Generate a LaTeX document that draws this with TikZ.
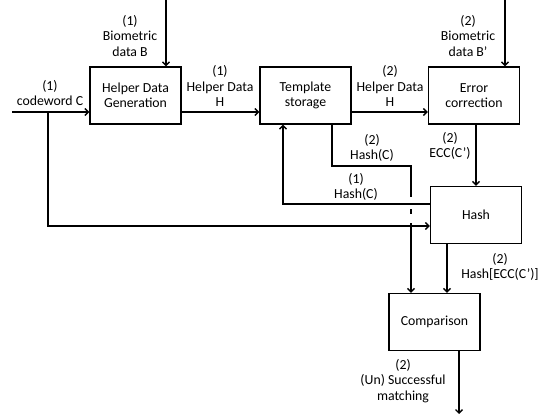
\documentclass[tikz,border=0pt]{standalone}
\usepackage{fontspec}
\setmainfont{Carlito}
\usetikzlibrary{arrows.meta}

\begin{document}
\begin{tikzpicture}[
    x=1pt, y=-1pt,
    line width=1.4pt,
    font=\fontsize{13.8}{15.5}\selectfont,
    block/.style={draw, minimum width=91pt, minimum height=57pt, align=center, inner sep=0pt},
    lbl/.style={align=center, inner sep=0pt},
    arr/.style={-{Straight Barb[length=3.5pt,width=7pt]}}
]
\useasboundingbox (0,0) rectangle (543,414);

% Blocks
\node[block] (hdg) at (135.5,95.5) {Helper Data\\Generation};
\node[block] (ts) at (305.5,95.5) {Template\\storage};
\node[block] (ecc) at (474,95.5) {Error\\correction};
\node[block] (hash) at (476,215) {Hash};
\node[block] (cmp) at (434.5,322) {Comparison};

% Free ends and bends
\coordinate (cwin) at (12,112);
\coordinate (split) at (48,112);
\coordinate (cwrow) at (0,226);
\coordinate (bioA) at (166,0);
\coordinate (bioB) at (505,0);
\coordinate (tsdown) at (332,166);
\coordinate (tscross) at (411,166);
\coordinate (hashret) at (283,204);
\coordinate (hc) at (447,0);
\coordinate (outend) at (459,414);

% Enrolment (1)
\draw[arr] (cwin) -- (cwin -| hdg.west);
\draw[arr] (bioA) -- (bioA |- hdg.north);
\draw[arr] (hdg.east |- cwin) -- (ts.west |- cwin);

% Verification (2)
\draw[arr] (ts.east |- cwin) -- (ecc.west |- cwin);
\draw[arr] (bioB) -- (bioB |- ecc.north);
\draw[arr] (hash.north |- ecc.south) -- (hash.north);
\draw[arr] (ts.south -| tsdown) -- (tsdown) -- (tscross) -- (tscross |- cmp.north);
\draw[arr] (hash.south -| hc) -- (cmp.north -| hc);
\draw[arr] (cmp.south -| outend) -- (outend);

% Gaps where lines cross
\fill[white] (408,197) rectangle (414,209);
\fill[white] (408,214) rectangle (414,223);

\draw[arr] (split) |- (hash.west |- cwrow);
\draw[arr] (hash.west |- hashret) -| (ts.south -| hashret);

% Labels
\node[lbl] (lbA) at (130,36) {(1)\\Biometric\\data B};
\node[lbl] (lbB) at (468,36) {(2)\\Biometric\\data B’};
\node[lbl] (lcw) at (50,93) {(1)\\codeword C};
\node[lbl] (lh1) at (220,86) {(1)\\Helper Data\\H};
\node[lbl] (lh2) at (390,86) {(2)\\Helper Data\\H};
\node[lbl] (lecc) at (450,146) {(2)\\ECC(C’)};
\node[lbl] (lhc2) at (372,148) {(2)\\Hash(C)};
\node[lbl] (lhc1) at (356,187) {(1)\\Hash(C)};
\node[lbl] (lhe) at (500,267) {(2)\\Hash[ECC(C’)]};
\node[lbl] (lout) at (403,381) {(2)\\(Un) Successful\\matching};

\end{tikzpicture}
\end{document}
